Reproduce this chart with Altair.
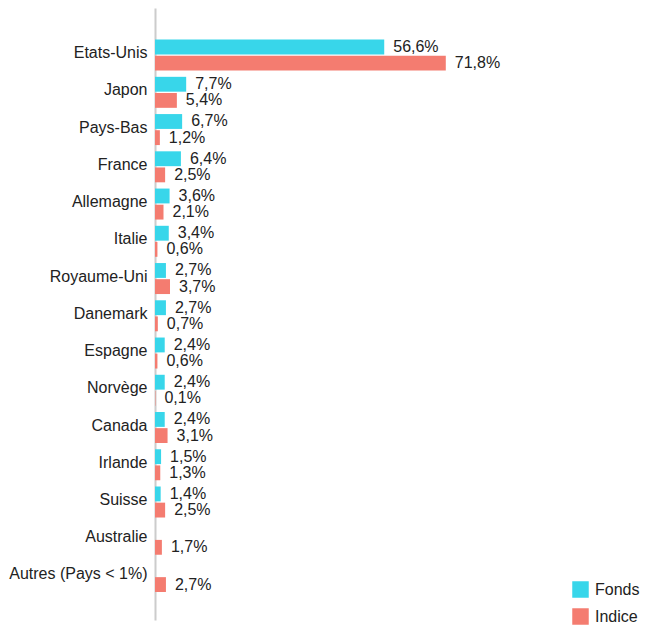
import altair as alt
import pandas as pd

countries = ["Etats-Unis", "Japon", "Pays-Bas", "France", "Allemagne", "Italie",
             "Royaume-Uni", "Danemark", "Espagne", "Norvège", "Canada", "Irlande",
             "Suisse", "Australie", "Autres (Pays < 1%)"]
fonds = [56.6, 7.7, 6.7, 6.4, 3.6, 3.4, 2.7, 2.7, 2.4, 2.4, 2.4, 1.5, 1.4, None, None]
indice = [71.8, 5.4, 1.2, 2.5, 2.1, 0.6, 3.7, 0.7, 0.6, 0.1, 3.1, 1.3, 2.5, 1.7, 2.7]
series = ["Fonds", "Indice"]
colors = ["#38D6EA", "#F47C70"]

rows = []
for c, f, i in zip(countries, fonds, indice):
    for s, v in zip(series, [f, i]):
        if v is not None:
            rows.append({"pays": c, "serie": s, "valeur": v,
                         "label": f"{v:.1f}".replace(".", ",") + "%"})
df = pd.DataFrame(rows)

FONT = "Liberation Sans"
FS = 16

y_enc = alt.Y("pays:N", sort=countries, title=None,
              scale=alt.Scale(paddingInner=0.1676, paddingOuter=0.8, align=0.53),
              axis=alt.Axis(domainColor="#cccccc", domainWidth=2, ticks=False, tickSize=0,
                            grid=False, labelPadding=8, labelOffset=-2, labelFontSize=FS,
                            labelFont=FONT, labelColor="#222222", labelLimit=300))
yoff = alt.YOffset("serie:N", sort=series, scale=alt.Scale(paddingInner=0.08))
x_enc = alt.X("valeur:Q", scale=alt.Scale(domain=[0, 100]), axis=None)

base = alt.Chart(df)

bars = base.mark_bar().encode(
    y=y_enc, yOffset=yoff, x=x_enc,
    color=alt.Color("serie:N", sort=series,
                    scale=alt.Scale(domain=series, range=colors),
                    legend=alt.Legend(title=None, orient="none", legendX=417, legendY=573,
                                      symbolType="square", symbolSize=272,
                                      symbolStrokeWidth=0, labelFontSize=FS,
                                      labelFont=FONT, labelColor="#222222",
                                      rowPadding=10, padding=0, labelOffset=6)),
)

texts = base.mark_text(align="left", baseline="middle", dx=9, fontSize=FS,
                       font=FONT, color="#222222").encode(
    y=y_enc, yOffset=yoff, x=x_enc, text="label:N")

chart = alt.layer(bars, texts).properties(
    width=405, height=612,
    padding={"left": 147, "top": 0, "right": 81, "bottom": 5},
    autosize=alt.AutoSizeParams(type="none"),
).configure_view(stroke=None)

chart.save("out.html", embed_options={"renderer": "svg", "actions": False})
